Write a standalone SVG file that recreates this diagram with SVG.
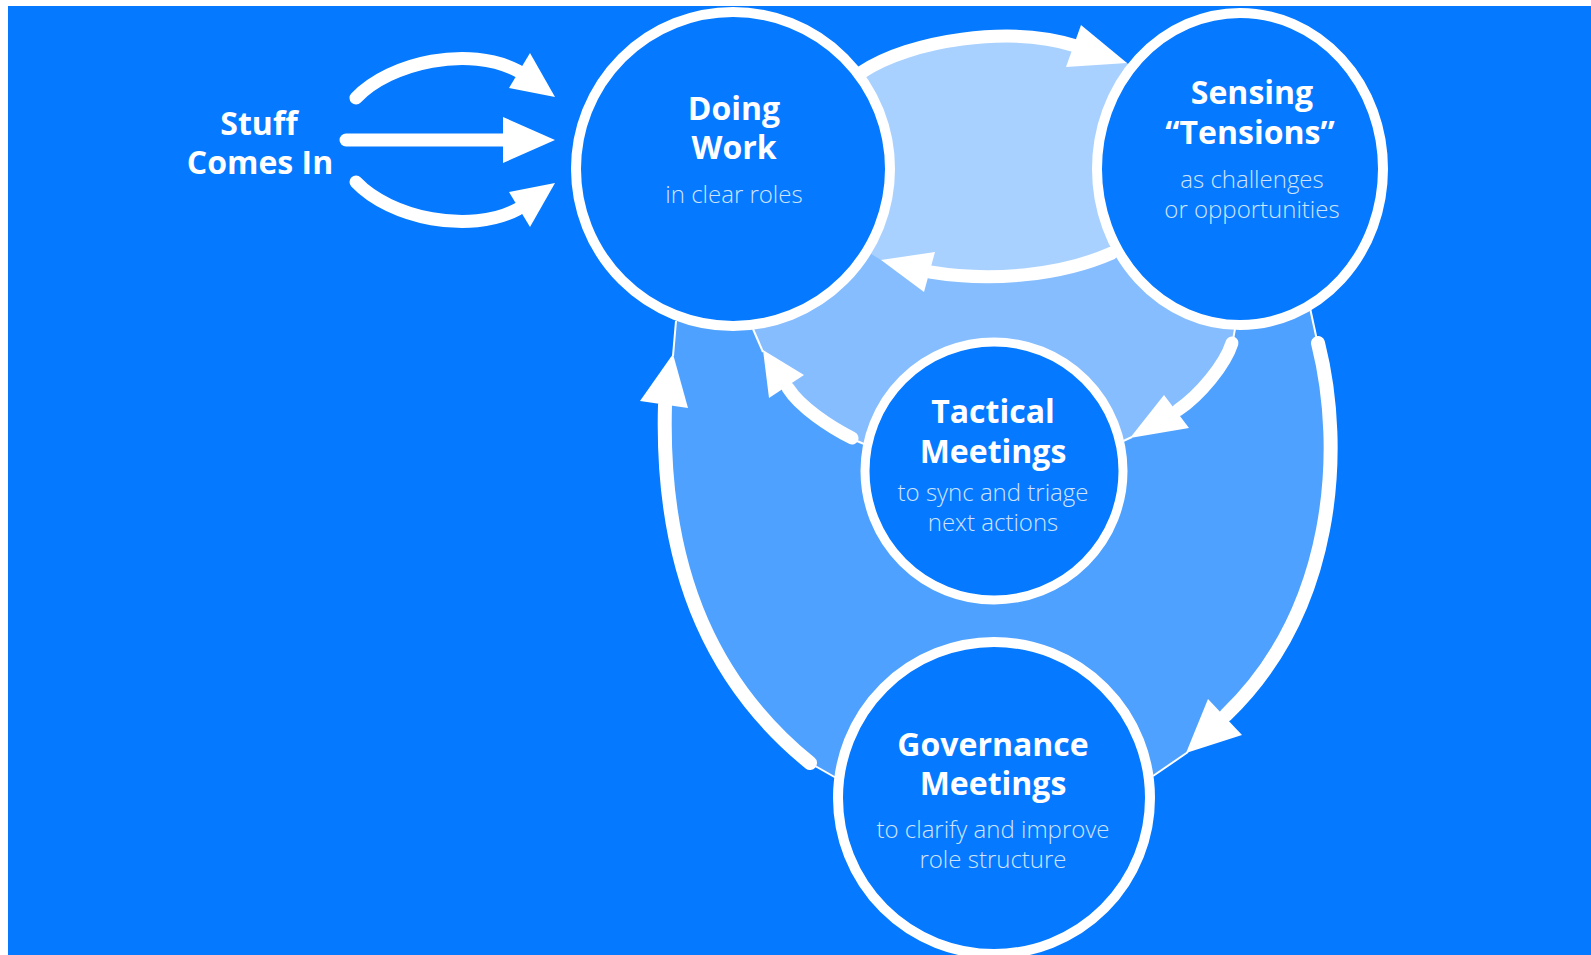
<svg xmlns="http://www.w3.org/2000/svg" width="1591" height="955" viewBox="0 0 1591 955">
  <defs>
    <style>
      .bg { fill: #0579FF; }
      .ring { fill: #0579FF; stroke: #FFFFFF; stroke-width: 10; }
      .ring-s { fill: #0579FF; stroke: #FFFFFF; stroke-width: 9; }
      .shaft { fill: none; stroke: #FFFFFF; stroke-width: 13; stroke-linecap: round; }
      .shaft-l { fill: none; stroke: #FFFFFF; stroke-width: 14; stroke-linecap: round; }
      .thin { fill: none; stroke: #FFFFFF; stroke-width: 2; }
      .head { fill: #FFFFFF; }
      .title { font-family: "Open Sans", "Noto Sans", sans-serif; font-weight: 700; font-size: 32px; fill: #FFFFFF; text-anchor: middle; }
      .sub { font-family: "Open Sans", "Noto Sans", sans-serif; font-weight: 300; font-size: 24px; fill: #CFE4FF; text-anchor: middle; }
    </style>
  </defs>

  <rect x="0" y="0" width="1591" height="955" fill="#FFFFFF"/>
  <rect class="bg" x="8" y="6" width="1583" height="949"/>

  <g id="regions">
    <path fill="#4EA1FF" d="M 676 322 L 673 355 L 665 400 C 660 580 720 690 810 763 L 836 778 L 994 797 L 1155 775 L 1186 753 L 1224 717 C 1335 610 1345 450 1318 343 L 1311 310 L 1240 169 L 733 169 Z"/>
    <path fill="#86BDFF" d="M 753 330 L 763 350 L 786 386 C 800 405 830 425 862 443 L 994 473 L 1130 438 L 1176 411 C 1200 395 1225 365 1232 343 L 1235 330 L 1240 169 L 733 169 Z"/>
    <path fill="#A9D1FF" d="M 862 72 C 910 40 1010 25 1075 45 L 1127 63 L 1240 169 L 1112 253 C 1060 276 990 282 930 272 L 881 260 L 733 169 Z"/>
  </g>

  <g id="connectors">
    <!-- Stuff comes in -->
    <path class="shaft" d="M 356 98 C 390 62 470 45 518 71"/>
    <polygon class="head" points="555,97 530,53 509,88"/>
    <path class="shaft" d="M 346 140 L 508 140"/>
    <polygon class="head" points="555,140 503,117 503,163"/>
    <path class="shaft" d="M 356 182 C 390 218 470 235 518 209"/>
    <polygon class="head" points="555,183 530,227 509,192"/>

    <!-- Doing -> Sensing (top) -->
    <path class="shaft" d="M 862 72 C 910 40 1010 25 1076 46"/>
    <polygon class="head" points="1127,63 1081,25 1066,67"/>
    <!-- Sensing -> Doing (bottom) -->
    <path class="shaft" d="M 1112 253 C 1060 276 990 282 930 272"/>
    <polygon class="head" points="881,260 935,252 924,292"/>

    <!-- Tactical -> Doing -->
    <path class="shaft" d="M 852 438 C 830 427 800 407 788 388"/>
    <polygon class="head" points="763,350 769,398 804,375"/>
    <line class="thin" x1="753" y1="329" x2="763" y2="352"/>
    <line class="thin" x1="850" y1="438" x2="864" y2="444"/>

    <!-- Sensing -> Tactical -->
    <path class="shaft" d="M 1232 343 C 1225 365 1200 395 1178 410"/>
    <polygon class="head" points="1130,438 1189,428 1164,395"/>
    <line class="thin" x1="1235" y1="329" x2="1232" y2="345"/>
    <line class="thin" x1="1132" y1="437" x2="1121" y2="442"/>

    <!-- Governance -> Doing (big left) -->
    <path class="shaft-l" d="M 810 763 C 720 690 660 580 665 405"/>
    <polygon class="head" points="673,354 640,401 688,408"/>
    <line class="thin" x1="676" y1="321" x2="673" y2="356"/>
    <line class="thin" x1="808" y1="762" x2="838" y2="779"/>

    <!-- Sensing -> Governance (big right) -->
    <path class="shaft-l" d="M 1318 343 C 1345 450 1335 610 1226 715"/>
    <polygon class="head" points="1186,753 1242,735 1208,699"/>
    <line class="thin" x1="1310" y1="308" x2="1318" y2="345"/>
    <line class="thin" x1="1188" y1="752" x2="1153" y2="776"/>
  </g>

  <g id="stuff-comes-in">
    <text class="title" x="259" y="135">Stuff<tspan x="260" dy="39">Comes In</tspan></text>
  </g>

  <g id="doing-work">
    <circle class="ring" cx="733" cy="169" r="157"/>
    <text class="title" x="734" y="120">Doing<tspan x="734" dy="39">Work</tspan></text>
    <text class="sub" x="734" y="203">in clear roles</text>
  </g>

  <g id="sensing-tensions">
    <ellipse class="ring" cx="1240" cy="169" rx="143" ry="156"/>
    <text class="title" x="1252" y="104">Sensing<tspan x="1250" dy="40">“Tensions”</tspan></text>
    <text class="sub" x="1252" y="188">as challenges<tspan x="1252" dy="30">or opportunities</tspan></text>
  </g>

  <g id="tactical-meetings">
    <circle class="ring-s" cx="994" cy="471" r="129"/>
    <text class="title" x="993" y="423">Tactical<tspan x="993" dy="40">Meetings</tspan></text>
    <text class="sub" x="993" y="501">to sync and triage<tspan x="993" dy="30">next actions</tspan></text>
  </g>

  <g id="governance-meetings">
    <circle class="ring" cx="994" cy="798" r="156"/>
    <text class="title" x="993" y="756">Governance<tspan x="993" dy="39">Meetings</tspan></text>
    <text class="sub" x="993" y="838">to clarify and improve<tspan x="993" dy="30">role structure</tspan></text>
  </g>
</svg>
